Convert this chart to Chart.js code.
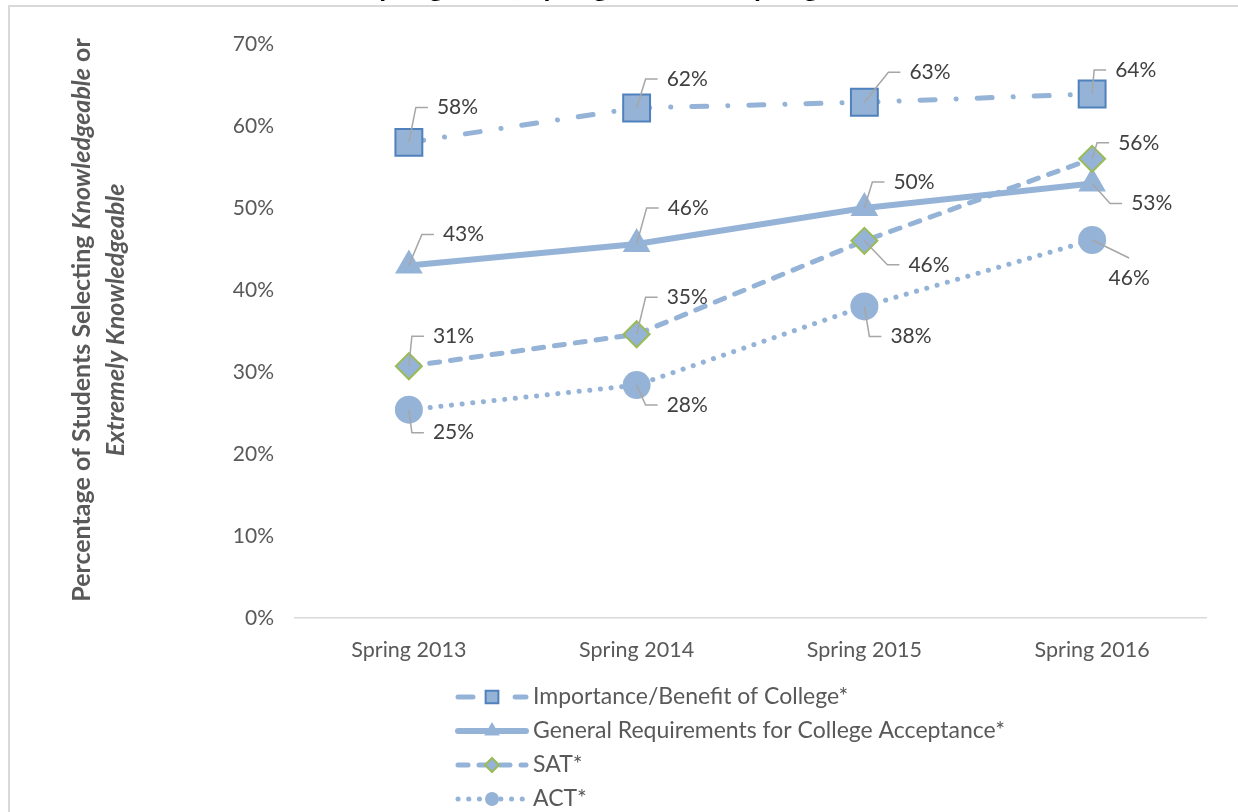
<!DOCTYPE html>
<html>
<head>
<meta charset="utf-8">
<script src="https://cdn.jsdelivr.net/npm/chart.js@4.4.1/dist/chart.umd.min.js"></script>
<style>
html, body { margin: 0; padding: 0; background: #fff; overflow: hidden; }
#wrap { position: relative; width: 1238px; height: 812px; }
</style>
</head>
<body>
<div id="wrap"><canvas id="chart" width="1238" height="812"></canvas></div>
<script>
// данные графика
var categories = ['Spring 2013', 'Spring 2014', 'Spring 2015', 'Spring 2016'];
var importanceValues = [58, 62.2, 62.9, 63.9];
var requirementsValues = [43, 45.6, 50, 53];
var satValues = [30.7, 34.6, 46, 56];
var actValues = [25.4, 28.4, 38, 46.1];
var seriesNames = [
    'Importance/Benefit of College*',
    'General Requirements for College Acceptance*',
    'SAT*',
    'ACT*'
];
var yTickMax = 70;
var yTickStep = 10;
var titleText = 'Spring 2014, Spring 2015 and Spring 2016';

var lineColor = '#95b3d7';
var fontName = 'Lato';

// смещения подписей относительно точки: [dx, dy] (текст слева, центр по y)
var labelOffsets = [
    [[28, -35], [30, -29], [45, -30], [23, -24]],
    [[34, -31], [31, -36], [29, -26], [39, 20]],
    [[24, -30], [30, -37], [44, 24], [26, -16]],
    [[24, 23], [30, 20], [26, 30], [37, 38, 'below']]
];

// маркеры в легенде
var legendMarkerRadius = [9, 9, 7, 7];

function makeDataset(name, values, style, order) {
    return Object.assign({
        label: name,
        data: values,
        borderColor: lineColor,
        backgroundColor: lineColor,
        pointBackgroundColor: lineColor,
        borderCapStyle: 'round',
        borderJoinStyle: 'round',
        tension: 0,
        fill: false,
        order: order
    }, style);
}

var datasets = [
    makeDataset(seriesNames[0], importanceValues, {
        borderWidth: 5,
        borderDash: [15, 21, 0.1, 21],
        pointStyle: 'rect',
        pointRadius: 19,
        pointBorderColor: '#4f81bd',
        pointBorderWidth: 2
    }, 3),
    makeDataset(seriesNames[1], requirementsValues, {
        borderWidth: 6,
        borderDash: [],
        pointStyle: 'triangle',
        pointRadius: 16,
        pointBorderColor: lineColor,
        pointBorderWidth: 0
    }, 2),
    makeDataset(seriesNames[2], satValues, {
        borderWidth: 5,
        borderDash: [10, 11],
        pointStyle: 'rectRot',
        pointRadius: 13,
        pointBorderColor: '#9bbb59',
        pointBorderWidth: 2
    }, 1),
    makeDataset(seriesNames[3], actValues, {
        borderWidth: 5,
        borderDash: [0.1, 10.6],
        pointStyle: 'circle',
        pointRadius: 14,
        pointBorderColor: lineColor,
        pointBorderWidth: 0
    }, 0)
];

// подписи данных с выносками
var dataLabelsPlugin = {
    id: 'dataLabels',
    afterDatasetsDraw: function(chart) {
        var ctx = chart.ctx;
        ctx.save();
        ctx.font = '21px ' + fontName;
        ctx.textBaseline = 'middle';
        for (var i = 0; i < chart.data.datasets.length; i++) {
            var meta = chart.getDatasetMeta(i);
            var values = chart.data.datasets[i].data;
            for (var j = 0; j < meta.data.length; j++) {
                var p = meta.data[j];
                var off = labelOffsets[i][j];
                var txt = Math.round(values[j]) + '%';
                ctx.strokeStyle = '#a6a6a6';
                ctx.lineWidth = 1.5;
                ctx.setLineDash([]);
                ctx.beginPath();
                if (off[2] === 'below') {
                    var cx = p.x + off[0], cy = p.y + off[1];
                    ctx.moveTo(p.x, p.y);
                    ctx.lineTo(cx, cy - 20);
                    ctx.stroke();
                    ctx.fillStyle = '#404040';
                    ctx.textAlign = 'center';
                    ctx.fillText(txt, cx, cy);
                } else {
                    var tx = p.x + off[0], ty = p.y + off[1];
                    ctx.moveTo(p.x, p.y);
                    ctx.lineTo(tx - 21, ty);
                    ctx.lineTo(tx - 9, ty);
                    ctx.stroke();
                    ctx.fillStyle = '#404040';
                    ctx.textAlign = 'left';
                    ctx.fillText(txt, tx, ty);
                }
            }
        }
        ctx.restore();
    }
};

// рамка, заголовок, подпись оси Y и легенда
var decorPlugin = {
    id: 'decor',
    afterDraw: function(chart) {
        var ctx = chart.ctx;
        ctx.save();

        // рамка
        ctx.strokeStyle = '#d9d9d9';
        ctx.lineWidth = 2;
        ctx.beginPath();
        ctx.moveTo(9, 812);
        ctx.lineTo(9, 6);
        ctx.lineTo(1238, 6);
        ctx.stroke();

        // заголовок (обрезан сверху)
        ctx.fillStyle = '#000';
        ctx.font = 'bold 28px ' + fontName;
        ctx.textAlign = 'center';
        ctx.textBaseline = 'alphabetic';
        ctx.fillText(titleText, 627, -4);

        // подпись оси Y
        var midY = 320;
        var line1 = [
            ['bold', 'Percentage of Students Selecting '],
            ['italic bold', 'Knowledgeable'],
            ['bold', ' or']
        ];
        var line2 = [['italic bold', 'Extremely Knowledgeable']];
        function drawRotated(parts, x) {
            ctx.save();
            ctx.translate(x, midY);
            ctx.rotate(-Math.PI / 2);
            ctx.fillStyle = '#595959';
            ctx.textBaseline = 'middle';
            ctx.textAlign = 'left';
            var total = 0;
            parts.forEach(function(pt) {
                ctx.font = pt[0] + ' 25px ' + fontName;
                total += ctx.measureText(pt[1]).width;
            });
            var cur = -total / 2;
            parts.forEach(function(pt) {
                ctx.font = pt[0] + ' 25px ' + fontName;
                ctx.fillText(pt[1], cur, 0);
                cur += ctx.measureText(pt[1]).width;
            });
            ctx.restore();
        }
        drawRotated(line1, 82);
        drawRotated(line2, 116);

        // легенда
        var rowY = [697, 731, 765, 799];
        chart.data.datasets.forEach(function(ds, i) {
            var y = rowY[i];
            ctx.save();
            ctx.strokeStyle = ds.borderColor;
            ctx.lineWidth = ds.borderWidth;
            ctx.lineCap = 'round';
            ctx.setLineDash(ds.borderDash || []);
            ctx.beginPath();
            ctx.moveTo(458, y);
            ctx.lineTo(526, y);
            ctx.stroke();
            ctx.restore();
            ctx.save();
            ctx.fillStyle = ds.pointBackgroundColor;
            ctx.strokeStyle = ds.pointBorderColor;
            ctx.lineWidth = ds.pointBorderWidth;
            ctx.beginPath();
            Chart.helpers.drawPoint(ctx, {
                pointStyle: ds.pointStyle,
                radius: legendMarkerRadius[i],
                rotation: 0,
                borderWidth: ds.pointBorderWidth
            }, 492, y);
            ctx.restore();
            ctx.fillStyle = '#595959';
            ctx.font = '23px ' + fontName;
            ctx.textAlign = 'left';
            ctx.textBaseline = 'middle';
            ctx.fillText(ds.label, 533, y);
        });

        ctx.restore();
    }
};

function createChart() {
    var canvas = document.getElementById('chart');
    new Chart(canvas, {
        type: 'line',
        data: { labels: categories, datasets: datasets },
        options: {
            responsive: false,
            animation: false,
            devicePixelRatio: 1,
            layout: { padding: { left: 0, top: 44, right: 32, bottom: 0 } },
            plugins: {
                legend: { display: false },
                title: { display: false },
                tooltip: { enabled: false }
            },
            scales: {
                x: {
                    type: 'category',
                    offset: true,
                    grid: { display: false, drawTicks: false },
                    border: { display: true, color: '#d9d9d9', width: 1.5 },
                    ticks: { color: '#595959', font: { family: fontName, size: 21.5 }, padding: 19 },
                    afterFit: function(s) { s.height = 194; }
                },
                y: {
                    min: 0,
                    max: yTickMax,
                    grid: { display: false, drawTicks: false },
                    border: { display: false },
                    ticks: {
                        stepSize: yTickStep,
                        color: '#595959',
                        font: { family: fontName, size: 21 },
                        padding: 21,
                        callback: function(v) { return v + '%'; }
                    },
                    afterFit: function(s) { s.width = 295; }
                }
            }
        },
        plugins: [dataLabelsPlugin, decorPlugin]
    });
}

document.addEventListener('DOMContentLoaded', function() {
    createChart();
});
</script>
</body>
</html>
